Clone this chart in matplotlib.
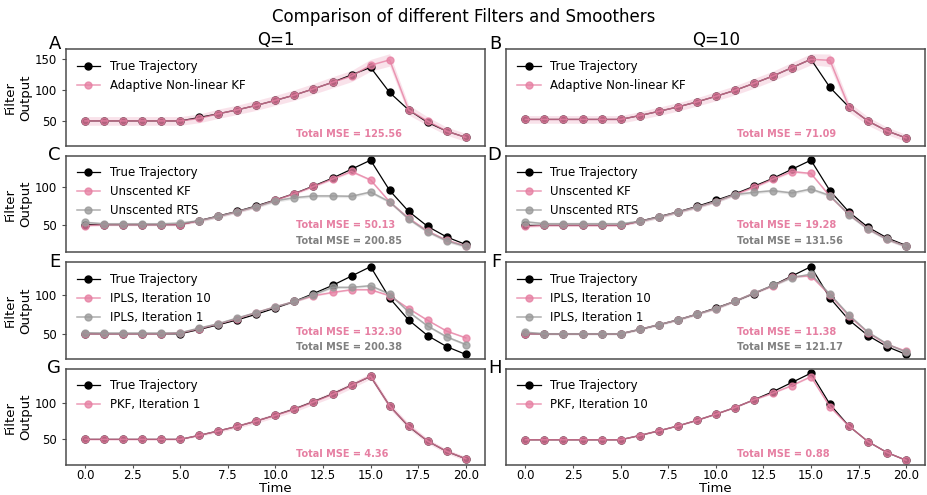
import matplotlib
matplotlib.use("Agg")
import matplotlib.pyplot as plt
from matplotlib.ticker import MultipleLocator

# time steps and the true trajectory (same in every panel)
time = list(range(21))
true_traj = [50, 50, 50, 50, 50, 50, 55.5, 61.5, 67.8, 75, 83, 91.5, 101.5, 112,
             124, 136, 95.7, 67.6, 47.6, 33.5, 23.5]

# A: adaptive non-linear KF, Q=1
akf_q1 = [50, 50, 50, 50, 50, 50, 54, 61.5, 67.8, 75, 83, 91.5, 101.5, 112,
          122, 139.4, 148, 67.6, 49.5, 33.5, 23.5]
akf_q1_band = [7, 7, 7, 7, 7, 7, 7, 7.5, 7.5, 8, 8, 8.5, 8.5, 9, 9, 9.5, 10,
               8, 7, 6.5, 6.5]
# B: adaptive non-linear KF, Q=10
akf_q10 = [50, 50, 50, 50, 50, 50, 55.5, 61.5, 67.8, 75, 83, 91.5, 101.5, 112,
           124, 136, 134.5, 67.6, 47.6, 33.5, 23.5]
akf_q10_band = [5.5, 5.5, 5.5, 5.5, 5.5, 5.5, 5.5, 6, 6, 6, 6.5, 6.5, 7, 7,
                7.5, 8, 9, 7, 6, 5.5, 5]

# C / D: unscented KF and RTS
ukf_q1 = [48.7, 50, 50, 50, 50, 50, 55.2, 60.9, 67.4, 74, 82.6, 91.3, 100.9,
          110.9, 120.9, 109.6, 80.4, 58.5, 41.3, 29.1, 21.7]
urts_q1 = [53, 51, 51, 51, 51, 52, 55.2, 60.9, 67.4, 74, 81.7, 86, 88.3, 88.3,
           87.8, 93.5, 80.4, 57.4, 40.4, 28.3, 20.9]
ukf_q10 = [48.7, 50, 50, 50, 50, 50, 55.2, 60.9, 67.5, 74, 81.4, 90.6, 100.2,
           111, 121, 118.5, 88.4, 64.4, 45.6, 31.7, 22.5]
urts_q10 = [54.8, 52.2, 52.2, 52.2, 52.2, 52.2, 55.2, 60.9, 67.5, 74, 81.4,
            90.6, 93.6, 95.8, 92.8, 98, 89.3, 64, 45, 31.5, 22.3]

# E / F: IPLS
ipls10_q1 = [50, 50, 50, 50, 50, 50.9, 56.5, 62.5, 69.4, 77.2, 84.5, 91.4,
             98.7, 103, 106.5, 106.5, 98.7, 82.3, 67.2, 53.4, 44.8]
ipls1_q1 = [51.3, 50.9, 50.9, 50.9, 50.9, 51.3, 57.3, 62.9, 70.3, 77.2, 84.5,
            91.4, 100, 109.5, 109.5, 111.6, 100.9, 78, 59.9, 46, 36.2]
ipls10_q10 = [50, 50, 50, 50, 50, 50, 55.6, 61.6, 67.6, 75, 82.2, 91.6, 102,
              111.4, 123, 124.2, 99.4, 72.7, 51.3, 36.3, 27.7]
ipls1_q10 = [52, 50, 50, 50, 50, 50, 55.6, 61.6, 67.6, 75, 82.2, 91.6, 102,
             112, 122, 126.4, 100.6, 74, 52, 37, 26.4]

# G / H: PKF
pkf1_q1 = [50, 50, 50, 50, 50, 50, 55.5, 61.4, 67.7, 75, 82.7, 91, 101, 111.4,
           123.6, 136.4, 95.5, 68.2, 47.7, 33.6, 23.6]
pkf1_q1_band = [1, 1, 1, 1, 1, 1, 1.5, 2, 2.5, 3, 3, 3.5, 3.5, 4, 4, 4, 4,
                4, 3.5, 3, 3]
pkf10_q10 = [50, 50, 50, 50, 50, 50, 55.5, 61.5, 67.8, 75, 83, 91.5, 101.5,
             110.2, 120, 131.5, 92.5, 67.6, 47.6, 33.5, 23.5]

pink = "#e67fa2"
grey = "#999999"

# (estimate, label, colour, band half width, mse text)
panels = [
    ("A", [(akf_q1, "Adaptive Non-linear KF", pink, akf_q1_band, "125.56")]),
    ("B", [(akf_q10, "Adaptive Non-linear KF", pink, akf_q10_band, "71.09")]),
    ("C", [(ukf_q1, "Unscented KF", pink, 1.5, "50.13"),
           (urts_q1, "Unscented RTS", grey, 2.0, "200.85")]),
    ("D", [(ukf_q10, "Unscented KF", pink, 1.5, "19.28"),
           (urts_q10, "Unscented RTS", grey, 2.0, "131.56")]),
    ("E", [(ipls10_q1, "IPLS, Iteration 10", pink, 1.0, "132.30"),
           (ipls1_q1, "IPLS, Iteration 1", grey, 1.5, "200.38")]),
    ("F", [(ipls10_q10, "IPLS, Iteration 10", pink, 1.0, "11.38"),
           (ipls1_q10, "IPLS, Iteration 1", grey, 1.5, "121.17")]),
    ("G", [(pkf1_q1, "PKF, Iteration 1", pink, pkf1_q1_band, "4.36")]),
    ("H", [(pkf10_q10, "PKF, Iteration 10", pink, 0.8, "0.88")]),
]

fig, axes = plt.subplots(4, 2, figsize=(9.27, 4.95), dpi=100)
fig.subplots_adjust(left=0.0712, right=0.998, top=0.9004, bottom=0.06,
                    hspace=0.103, wspace=0.0515)
fig.suptitle("Comparison of different Filters and Smoothers", fontsize=12,
             y=0.966, va="center")

for k, (letter, ests) in enumerate(panels):
    row, col = divmod(k, 2)
    ax = axes[row, col]
    ax.plot(time, true_traj, color="black", marker="o", ms=5, lw=0.9,
            label="True Trajectory")
    for est, label, c, band, mse in ests:
        if isinstance(band, list):
            lo = [v - b for v, b in zip(est, band)]
            hi = [v + b for v, b in zip(est, band)]
        else:
            lo = [v - band for v in est]
            hi = [v + band for v in est]
        ax.fill_between(time, lo, hi, color=c, alpha=0.22, lw=0)
        ax.plot(time, est, color=c, marker="o", ms=5, lw=1.1, alpha=0.78,
                label=label)
    if len(ests) == 1:
        ax.text(0.55, 0.12, "Total MSE = " + ests[0][4], color=pink,
                fontsize=7, fontweight="bold", transform=ax.transAxes,
                va="center")
    else:
        ax.text(0.55, 0.28, "Total MSE = " + ests[0][4], color=pink,
                fontsize=7, fontweight="bold", transform=ax.transAxes,
                va="center")
        ax.text(0.55, 0.12, "Total MSE = " + ests[1][4], color="grey",
                fontsize=7, fontweight="bold", transform=ax.transAxes,
                va="center")

    ax.legend(loc="upper left", frameon=False, fontsize=8.5)
    for s in ax.spines.values():
        s.set_color("0.3")
        s.set_linewidth(1.1)
    ax.tick_params(labelsize=8.5, length=3, color="0.3")
    ax.xaxis.set_major_locator(MultipleLocator(2.5))
    ax.yaxis.set_major_locator(MultipleLocator(50))
    if col == 0:
        ax.set_ylabel("Filter\nOutput", fontsize=9.5, labelpad=2)
    else:
        ax.tick_params(left=False, labelleft=False)
    if row < 3:
        ax.tick_params(bottom=False, labelbottom=False)
    else:
        ax.tick_params(axis="x", length=2, pad=1)
        ax.set_xlabel("Time", fontsize=9.5, labelpad=0)
    ybase = 1.005 if row == 0 else 0.955
    ax.text(-0.012, ybase, letter, fontsize=13, ha="right", va="baseline",
            transform=ax.transAxes)

axes[0, 0].set_title("Q=1", fontsize=12, pad=3)
axes[0, 1].set_title("Q=10", fontsize=12, pad=3)

fig.savefig("out.png", dpi=100)
